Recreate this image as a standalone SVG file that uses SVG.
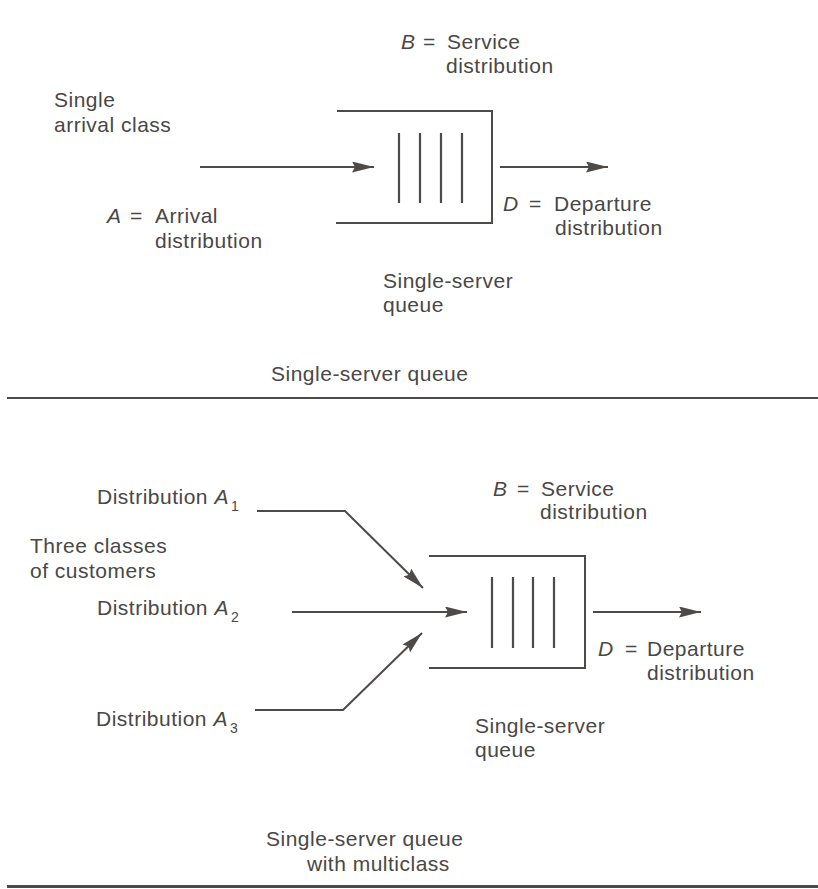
<svg xmlns="http://www.w3.org/2000/svg" width="818" height="889" viewBox="0 0 818 889">
  <defs>
    <marker id="arrow" viewBox="0 0 22 11" refX="22" refY="5.5" markerWidth="22" markerHeight="11" markerUnits="userSpaceOnUse" orient="auto">
      <path d="M0,0 L22,5.5 L0,11 L3,5.5 Z" fill="#4d4a48"/>
    </marker>
    <style>
      text { font-family: "Liberation Sans", Arial, sans-serif; font-size: 21px; letter-spacing: 0.5px; fill: #4a4745; }
      .it { font-style: italic; }
      .sub { font-size: 14px; font-style: normal; }
      .line { stroke: #4d4a48; stroke-width: 2; fill: none; }
      .bar { stroke: #4d4a48; stroke-width: 2.2; fill: none; }
      .rule { stroke: #4d4a48; fill: none; }
    </style>
  </defs>
  <rect width="818" height="889" fill="#ffffff"/>

  <!-- Upper panel: single-server queue -->
  <g id="queue1">
    <path class="line" d="M337,111 H492 V223 H336"/>
    <path class="bar" d="M399,133 V203 M420,133 V203 M441,133 V203 M462,133 V203"/>
  </g>
  <g id="labels1">
    <text x="54" y="107">Single</text>
    <text x="54" y="132">arrival class</text>
    <text y="49"><tspan class="it" x="401">B</tspan><tspan x="423">=</tspan><tspan x="447">Service</tspan></text>
    <text x="446" y="73">distribution</text>
    <text y="223"><tspan class="it" x="107">A</tspan><tspan x="130">=</tspan><tspan x="155">Arrival</tspan></text>
    <text x="155" y="248">distribution</text>
    <text y="211"><tspan class="it" x="503">D</tspan><tspan x="529">=</tspan><tspan x="554">Departure</tspan></text>
    <text x="555" y="235">distribution</text>
    <text x="383" y="288">Single-server</text>
    <text x="383" y="312">queue</text>
    <text x="271" y="381">Single-server queue</text>
  </g>

  <!-- Lower panel: single-server queue with multiclass -->
  <g id="queue2">
    <path class="line" d="M429,556 H585 V668 H429"/>
    <path class="bar" d="M492,577 V648 M513,577 V648 M533,577 V648 M554,577 V648"/>
  </g>
  <g id="labels2">
    <text x="97" y="504">Distribution <tspan class="it">A</tspan><tspan class="sub" dx="2" dy="7">1</tspan></text>
    <text x="30" y="553">Three classes</text>
    <text x="30" y="578">of customers</text>
    <text x="97" y="615">Distribution <tspan class="it">A</tspan><tspan class="sub" dx="2" dy="7">2</tspan></text>
    <text x="96" y="726">Distribution <tspan class="it">A</tspan><tspan class="sub" dx="2" dy="7">3</tspan></text>
    <text y="496"><tspan class="it" x="493">B</tspan><tspan x="517">=</tspan><tspan x="541">Service</tspan></text>
    <text x="540" y="519">distribution</text>
    <text y="656"><tspan class="it" x="598">D</tspan><tspan x="625">=</tspan><tspan x="647">Departure</tspan></text>
    <text x="647" y="680">distribution</text>
    <text x="475" y="733">Single-server</text>
    <text x="475" y="757">queue</text>
    <text x="266" y="846">Single-server queue</text>
    <text x="307" y="871">with multiclass</text>
  </g>

  <!-- Connectors -->
  <g id="connectors">
    <path class="line" d="M200,167 H374" marker-end="url(#arrow)"/>
    <path class="line" d="M500,167 H608" marker-end="url(#arrow)"/>
    <path class="line" d="M257,511 H345 L423,588" marker-end="url(#arrow)"/>
    <path class="line" d="M292,612 H467" marker-end="url(#arrow)"/>
    <path class="line" d="M255,710 H343 L422,633" marker-end="url(#arrow)"/>
    <path class="line" d="M593,612 H701" marker-end="url(#arrow)"/>
  </g>

  <!-- Panel separators -->
  <g id="rules">
    <path class="rule" stroke-width="2" d="M7,398 H818"/>
    <path class="rule" stroke-width="3" d="M7,886.5 H818"/>
  </g>
</svg>
